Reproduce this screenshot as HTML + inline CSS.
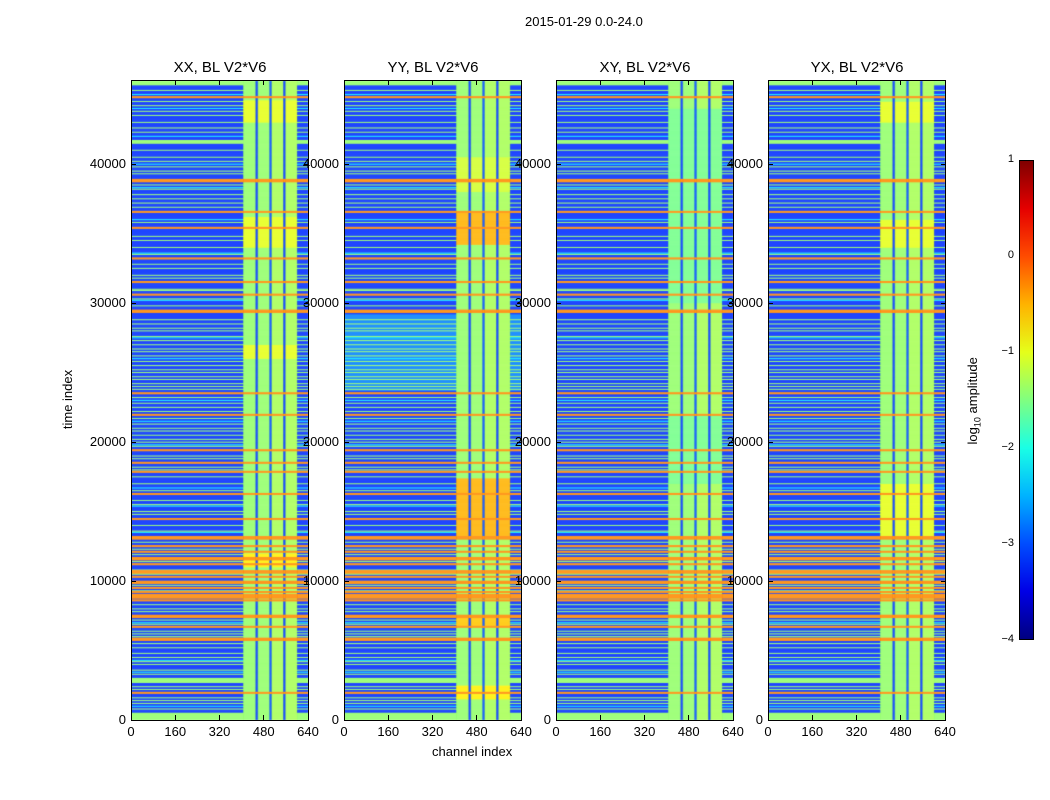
<!DOCTYPE html>
<html><head><meta charset="utf-8">
<style>
body{margin:0;background:#fff;width:1050px;height:800px;overflow:hidden;font-family:"Liberation Sans",sans-serif;}
#root{position:relative;width:1050px;height:800px;}
.t{position:absolute;font-size:13px;color:#000;white-space:nowrap;}
.pt{position:absolute;font-size:15px;color:#000;white-space:nowrap;transform:translateX(-50%);}
canvas{position:absolute;}
.frame{position:absolute;border:1px solid #000;box-sizing:border-box;pointer-events:none;}
.tick{position:absolute;background:#000;}
</style></head>
<body><div id="root">
<div class="t" style="left:525px;top:14px;">2015-01-29 0.0-24.0</div>
<div class="t" style="left:38px;top:392px;transform:rotate(-90deg);transform-origin:center;">time index</div>
<div class="t" style="left:432px;top:744px;">channel index</div>
<div id="cbar" style="position:absolute;left:1019px;top:160px;width:15px;height:480px;border:1px solid #000;box-sizing:border-box;"></div>
<div class="t" style="left:930px;top:392px;transform:rotate(-90deg);transform-origin:center;">log<sub style="font-size:9px">10</sub> amplitude</div>
</div>
<script>
const panelTitles = ["XX, BL V2*V6","YY, BL V2*V6","XY, BL V2*V6","YX, BL V2*V6"];
const panelLefts = [131,344,556,768];
const xTicks = [0,160,320,480,640];
const yTicks = [0,10000,20000,30000,40000];
const cbTicks = [1,0,-1,-2,-3,-4];
const channelEdges = [0,405,450,458,500,508,550,558,600,640];
const colLevels = [null,-1.4,-3.1,-1.4,-3.0,-1.3,-3.1,-1.3,null];
const bgLevel = -3.15;
const bgRegionsYY = [[23700,29200,-2.75]];
const orangeStripes = [44800,38850,38750,36550,35400,33200,31500,30600,29450,29350,23500,21950,19400,18500,17850,16250,14450,13150,13050,12500,12100,11650,11550,11200,10700,10600,10300,9950,9850,9500,9200,9000,8900,8800,8600,7500,7400,6700,5850,5750,1950];
const greenStripes = [46000,45950,45900,45850,45800,45750,45700,45300,44500,44200,43800,43500,43000,42600,42300,41700,41650,41600,41550,41500,41000,40500,40200,39800,39500,39300,38500,38200,37800,37500,37200,36900,35800,34800,34500,34000,33500,32800,32500,32000,31800,31000,30900,30300,29800,28800,28500,28200,28000,27600,27300,27000,26700,26500,26200,25800,25500,25200,25000,24700,24500,24200,24000,23800,23200,22800,22500,22200,22000,21700,21300,21000,20800,20500,20200,20000,19700,19000,18800,18200,18000,17500,17000,16500,15800,15500,15000,14800,14000,13600,12800,12300,11900,11400,10800,10500,10000,9700,9300,8300,8000,7800,7200,6900,6400,6200,6000,5500,5200,4800,4500,4200,4000,3600,3300,3000,2950,2900,2850,2800,2750,2700,2400,2200,1600,1400,1200,800,500,450,400,350,300,250,200,150,100,50,0];
const cyanStripes = [45000,44000,42000,40000,38300,36000,33600,30200,27500,26000,23000,21500,19800,16700,15400,13500,7000,5500,4300,3450,1000];
const blockRegions = [
  [[43000,44600,-1.0],[34000,36200,-1.0],[26000,27000,-1.0],[11000,12000,-0.8]],
  [[34200,36500,-0.5],[13250,17400,-0.5],[6700,7500,-0.6],[38000,40500,-1.1],[1500,2500,-0.8]],
  [[30000,44000,-1.55],[17000,22000,-1.55]],
  [[34000,36000,-1.0],[13000,17000,-1.0],[43000,44500,-1.0]]
];
const T_MAX = 46000;

function xScale(px0,ch){return px0 + ch*177/640;}
function yScale(t){return 720 - t*556/40000;}
function jet(v){const x=Math.min(1,Math.max(0,(v+4)/5));
  const c=a=>Math.round(255*Math.min(1,Math.max(0,a)));
  return 'rgb('+c(1.5-Math.abs(4*x-3))+','+c(1.5-Math.abs(4*x-2))+','+c(1.5-Math.abs(4*x-1))+')';}

const root=document.getElementById('root');
const DT=25;
function inBin(s,t,w){return s>=t-w && s<t+DT+w/3;}
function stripeLevel(t){
  for(const s of orangeStripes) if(inBin(s,t,80)) return -0.3;
  for(const s of greenStripes) if(inBin(s,t,25)) return -1.4;
  for(const s of cyanStripes) if(inBin(s,t,25)) return -2.2;
  return null;
}
panelTitles.forEach((title,p)=>{
  const L=panelLefts[p];
  const cv=document.createElement('canvas');
  
  
  cv.width=178;cv.height=641;cv.style.left=L+'px';cv.style.top='80px';
  root.appendChild(cv);
  const ctx=cv.getContext('2d');
  for(let t=0;t<T_MAX;t+=DT){
    const tc=t+DT/2;
    let bg=bgLevel;
    if(p===1) for(const r of bgRegionsYY) if(tc>=r[0]&&tc<r[1]) bg=r[2];
    const sl=stripeLevel(t);
    const y0=yScale(t+DT)-80, y1=yScale(t)-80;
    for(let i=0;i<colLevels.length;i++){
      let v;
      const isGap = colLevels[i]!==null && colLevels[i]<-2;
      const inBlock = colLevels[i]!==null;
      if(sl!==null && (sl>-1 || (!inBlock))) v=sl;
      else if(!inBlock) v=bg;
      else {
        v=colLevels[i];
        if(!isGap) for(const r of blockRegions[p]) if(tc>=r[0]&&tc<r[1]) v=r[2];
      }
      ctx.fillStyle=jet(v);
      const x0=xScale(0,channelEdges[i]), x1=xScale(0,channelEdges[i+1]);
      ctx.fillRect(x0,y0,x1-x0+0.5,y1-y0+0.2);
    }
  }
  const fr=document.createElement('div');fr.className='frame';
  
  
  fr.style.left=L+'px';fr.style.top='80px';fr.style.width='178px';fr.style.height='641px';
  root.appendChild(fr);
  const tt=document.createElement('div');tt.className='pt';tt.textContent=title;
  
  
  tt.style.left=(L+89)+'px';tt.style.top='59px';root.appendChild(tt);
  xTicks.forEach(v=>{
    const x=xScale(L,v);
    const lb=document.createElement('div');lb.className='t';lb.textContent=v;
    
    
    lb.style.left=x+'px';lb.style.top='724px';lb.style.transform='translateX(-50%)';root.appendChild(lb);
    [[715,5],[80,5]].forEach(([y,h])=>{const k=document.createElement('div');k.className='tick';
      
      
      k.style.left=(x-0.5)+'px';k.style.top=y+'px';k.style.width='1px';k.style.height=h+'px';root.appendChild(k);});
  });
  yTicks.forEach(v=>{
    const y=yScale(v);
    const lb=document.createElement('div');lb.className='t';lb.textContent=v;
    
    
    lb.style.right=(1050-L+5)+'px';lb.style.top=(y-8)+'px';root.appendChild(lb);
    [L,L+173].forEach(x=>{const k=document.createElement('div');k.className='tick';
      
      
      k.style.left=x+'px';k.style.top=(y-0.5)+'px';k.style.width='5px';k.style.height='1px';root.appendChild(k);});
  });
});
const cb=document.getElementById('cbar');
let stops=[];for(let i=0;i<=10;i++){stops.push(jet(1-i*0.5)+' '+(i*10)+'%');}
cb.style.background='linear-gradient(to bottom,'+stops.join(',')+')';
cbTicks.forEach(v=>{
  const y=160+(1-v)*96;
  const lb=document.createElement('div');lb.className='t';lb.style.fontSize='11px';
  lb.textContent=v<0?'\u2212'+(-v):String(v);
  
  
  lb.style.right=(1050-1014)+'px';lb.style.top=(y-7)+'px';root.appendChild(lb);
});
</script>
</body></html>
